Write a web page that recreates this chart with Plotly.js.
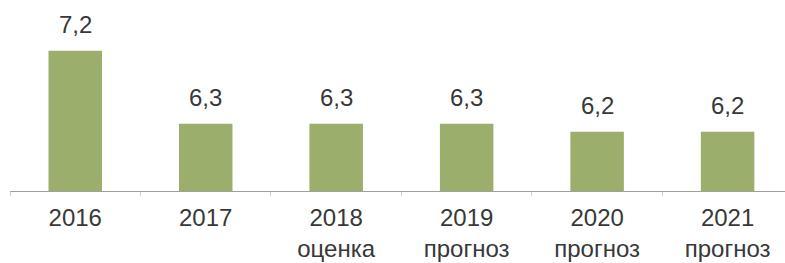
<!DOCTYPE html>
<html><head><meta charset="utf-8">
<script src="https://cdn.plot.ly/plotly-3.0.1.min.js"></script>
<style>html,body{margin:0;padding:0;background:#fff}#c{width:785px;height:263px}</style>
</head><body><div id="c"></div>
<script>
const years = ["2016", "2017", "2018", "2019", "2020", "2021"];
const notes = ["", "", "оценка", "прогноз", "прогноз", "прогноз"];
const values = [7.2, 6.3, 6.3, 6.3, 6.2, 6.2];
const valueLabels = ["7,2", "6,3", "6,3", "6,3", "6,2", "6,2"];

const tickText = years.map((y, i) => notes[i] ? y + "<br>" + notes[i] : y);

const trace = {
  type: "bar",
  x: years,
  y: values,
  marker: {color: "#9cae6c"},
  width: 0.41,
  hoverinfo: "none"
};

const annotations = years.map((y, i) => ({
  xref: "x", yref: "y",
  x: i, y: values[i], text: valueLabels[i], showarrow: false,
  yanchor: "bottom", yshift: 11,
  font: {family: "Liberation Sans, Arial, sans-serif", size: 24, color: "#383838"}
}));

const layout = {
  width: 785, height: 263,
  margin: {l: 10, r: 0, t: 0, b: 72},
  paper_bgcolor: "#fff", plot_bgcolor: "#fff",
  showlegend: false,
  font: {family: "Liberation Sans, Arial, sans-serif", size: 24, color: "#383838"},
  xaxis: {
    type: "category",
    range: [-0.5, 5.44],
    tickvals: years, ticktext: tickText,
    showline: true, linecolor: "#a0a0a0", linewidth: 1,
    ticks: "outside", tickson: "boundaries", ticklen: 4, tickcolor: "#d0d0d0",
    ticklabelstandoff: 5,
    showgrid: false, zeroline: false,
    tickfont: {size: 24, color: "#383838"}
  },
  yaxis: {
    range: [5.47, 7.825],
    showticklabels: false, showline: false, ticks: "", showgrid: false, zeroline: false
  },
  annotations: annotations
};

Plotly.newPlot("c", [trace], layout, {staticPlot: true, displayModeBar: false});
</script></body></html>
